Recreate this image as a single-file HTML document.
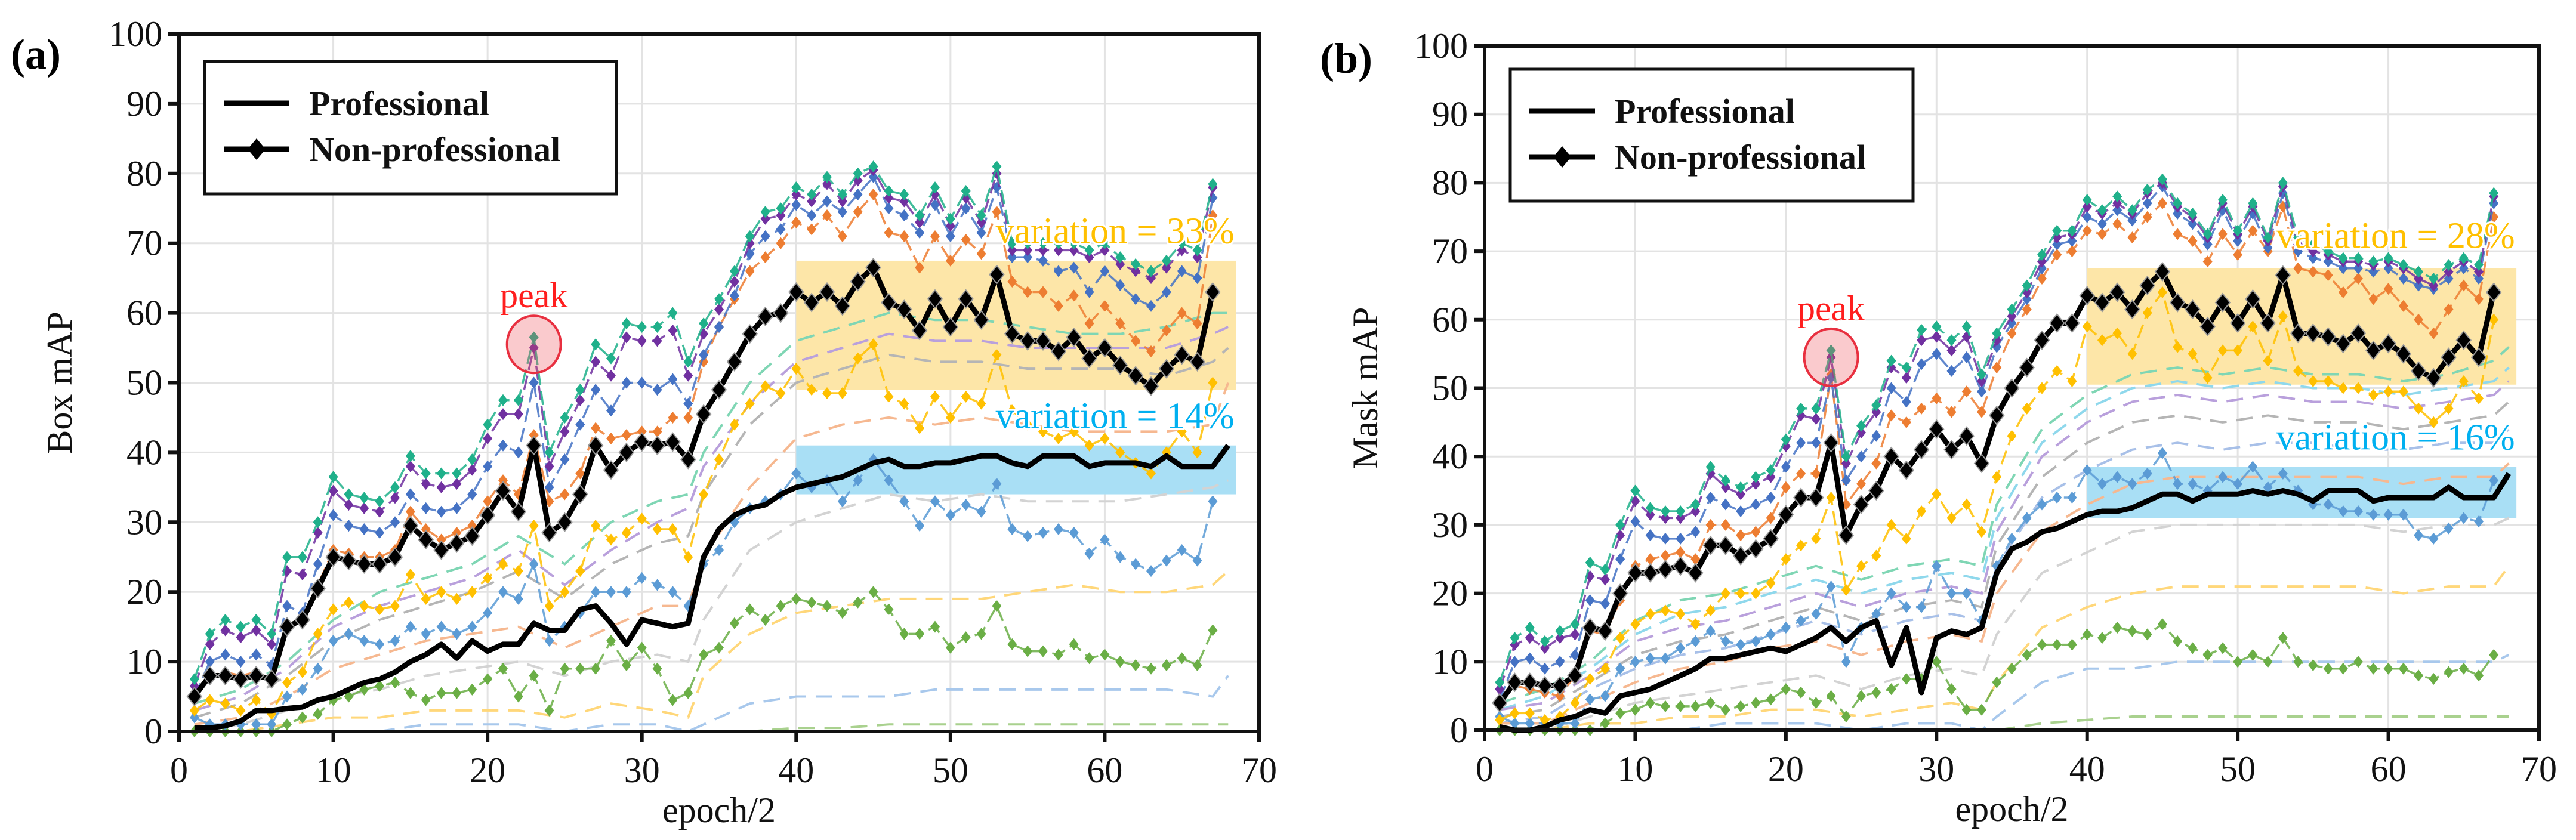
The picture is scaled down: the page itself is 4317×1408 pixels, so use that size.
<!DOCTYPE html>
<html><head><meta charset="utf-8">
<style>
html,body{margin:0;padding:0;background:#fff;}
svg{display:block;font-family:"Liberation Serif",serif;}
</style></head>
<body>
<svg id="chart" width="4317" height="1408" viewBox="0 0 4317 1408" xmlns="http://www.w3.org/2000/svg">
<text x="18" y="115" font-size="72" font-weight="bold">(a)</text>
<text x="2212" y="122" font-size="72" font-weight="bold">(b)</text>
</svg>
<script>
const epochs = Array.from({length:68},(_,i)=>i+1);
const xTicks = [0,10,20,30,40,50,60,70];
const yTicks = [0,10,20,30,40,50,60,70,80,90,100];
const dashX = [1,4,7,10,13,16,19,22,25,28,31,33,34,37,40,43,46,49,52,55,58,61,64,67,68];

// ---- Panel A (Box mAP) ----
const aProf = [0.5,0.5,0.8,1.5,3,3,3.3,3.5,4.5,5,6,7,7.5,8.5,10,11,12.5,10.5,13,11.5,12.5,12.5,15.5,14.5,14.5,17.5,18,15.5,12.5,16,15.5,15,15.5,25,29,31,32,32.5,34,35,35.5,36,36.5,37.5,38.5,39,38,38,38.5,38.5,39,39.5,39.5,38.5,38,39.5,39.5,39.5,38,38.5,38.5,38.5,38,39.5,38,38,38,41];
const aNon = [5,8,8,7.5,8,7.5,15,16,20.5,25,24.5,24,24,25,29.5,27.5,26,27,28,31,34.5,31.5,41,28.5,30,34,41,37.5,40,41.5,41,41.5,39,45.5,49,53,57,59.5,60,63,61.5,63,61,64.5,66.5,61.5,60.5,57.5,62,58,62,59,65.5,57,56,56,54.5,56.5,53.5,55,52.5,51,49.5,52,54,53,63];
const aTop = [7.5,14,16,15,16,14,25,25,30,36.5,34,33.5,33,35,39.5,37,37,37,39,44,47.5,47.5,56.5,40,45,49,55.5,53.5,58.5,58,58,60,53,58.5,62,66,71,74.5,75,78,77,79.5,77,80,81,77.5,77,74,78,73.5,77.5,74,81,70,70,70,70,70,69,70,68,67,66,67.5,70,69,78.5];
const aPurple = [6.5,12.5,14.5,13.5,14.5,12.5,23,22.5,28.5,34.5,32.5,32,31.5,33.5,38,35.5,35,35.5,37.5,42,45.5,45.5,55,38,43,47.5,53,51,56.5,56,56,57.5,51,57,60.5,64.5,70,73.5,74,77,76,78.5,76,79,80.5,76.5,76,73,77,72.5,76.5,73,80,69,69,69,69,69,68,69,67,66,65,66.5,69,68,78];
const aBlueHi = [5,10,11,10,11,9.5,18,17,24,31,29.5,29,28.5,30,34,32,31.5,32,34,38,41,40,50,35,39,44,49,46,50,50,49,50.5,47,54,58,62.5,68.5,71,72,75.5,74,76,74.5,77,79.5,75,74,71.5,75.5,71,75,71.5,78,68,68,67.5,66,66.5,63,66,64,62,61,63,66,65,76.5];
const aOrange = [5,8,8.5,8,8.5,7.5,15,16.5,21,26,25.5,25,25,26,31.5,29,27.5,28.5,29.5,33,36,34,42.5,33,34,37,43.5,42,42.5,43,43,45,45,53,58,62,66,68,70,73,72,74,71,74.5,77,71.5,71,66.5,71,67.5,70.5,68.5,74.5,64.5,63,63,61,62.5,58.5,61,58.5,56,54.5,57.5,60,58.5,74];
const aYellow = [3,4.5,4,3,4.5,2.5,7,8.5,14,17.5,18.5,18,17.5,18,22.5,19,20,19,20,22,24,23,29.5,18,20,23,29.5,27.5,28.5,30.5,29,29,25,34,39,44,47,49.5,48.5,52,49,48.5,48.5,53.5,55.5,48,47,43.5,48,45,48,47,54,46,44,43,42,43,41,42,40,38.5,37,40,43,40,50];
const aBlueLo = [2,1,1,1,1,1,5,6,9,13,14,13,12.5,13,15,14,15,14,15,17,20,19,24,13,15,17,20,20,20,22,21,20,18,24,26,30,32,33,34,37,35,36,33,36,39,36,33,29.5,33,31,32.5,31.5,35.5,29,28,28.5,29,28.5,25.5,27.5,25,24,23,24.5,26,24.5,33];
const aGreen = [0,0,0,0,0,0,1,2,2.5,4.5,5,6,6.5,7,5.5,4.5,5.5,5.5,6,7.5,9,5,8,3,9,9,9,13,9.5,12,9,4.5,5.5,11,12,15.5,17.5,16,18,19,18.5,18,17,18.5,20,17.5,14,14,15,12,13.5,14,18,12.5,11.5,11.5,11,12.5,10.5,11,10,9.5,9,9.5,10.5,9.5,14.5];
const aDashTeal = [4,6,10,16,20,22,24,28,24,30,33,34,40,50,56,58,60,59,59,58,57,57,58,60,60];
const aDashLav = [3,5,9,15,18,20,22,26,21,26,30,32,38,47,53,55,57,56,56,55,55,55,55,57,58];
const aDashGray = [2,4,8,13,16,18,20,23,19,24,27,28,34,44,50,52,54,53,53,52,52,52,51,53,55];
const aDashOrange = [1,2,5,9,11,13,14,15,12,15,18,18,25,35,42,44,45,44,45,44,43,43,43,44,50];
const aDashLGray = [0,1,3,5,6,8,9,10,8,10,11,10,16,26,30,32,34,33,34,33,33,33,34,35,36];
const aDashYellow = [0,0,1,2,2,3,3,3,2,4,3,2,8,14,17,18,19,19,19,20,21,20,20,21,23];
const aDashBlue = [0,0,0,0,0,1,1,1,0,1,1,0,1,4,5,5,5,6,6,6,6,6,6,5,8];
const aDashGreen = [0,0,0,0,0,0,0,0,0,0,0,0,0,0,0.5,0.5,1,1,1,1,1,1,1,1,1];

// ---- Panel B (Mask mAP) ----
const bProf = [0.5,0,0,0.5,1.5,2,3,2.5,5,5.5,6,7,8,9,10.5,10.5,11,11.5,12,11.5,12.5,13.5,15,13,15,16,9.5,15,5.5,13.5,14.5,14,15,23,26.5,27.5,29,29.5,30.5,31.5,32,32,32.5,33.5,34.5,34.5,33.5,34.5,34.5,34.5,35,34.5,35,34.5,33.5,35,35,35,33.5,34,34,34,34,35.5,34,34,34,37.5];
const bNon = [4,7,7,6.5,6.5,8,15,14.5,20,23,23,23.5,24,23,27,27,25.5,26.5,28,31.5,34,34,42,28.5,33,35,40,38,41,44,41,43,39,46,50,53,57,59.5,59.5,63.5,62.5,64,61.5,65,67,62.5,61.5,59,62.5,59.5,63,59.5,66.5,58,58,57.5,56.5,58,55.5,56.5,55,52.5,51.5,54.5,57,54.5,64];
const bTop = [7,13.5,15,13,14.5,15.5,24.5,23.5,30,35,32.5,32,32,33,38.5,36.5,35.5,37,38,42.5,47,47,55.5,40,44.5,47.5,54,53,58.5,59,57,59,52,58,61.5,65,69.5,73,73,77.5,76,78,76,79,80.5,77,75.5,72.5,77.5,73,77,72,80,72,71,70,69,69,68.5,69,68,67,66,68,69,68,78.5];
const bPurple = [6,12.5,13.5,12,13.5,14,22.5,22,28.5,33.5,31.5,31,31,32,37.5,35.5,34.5,36,37,41.5,46,45.5,54.5,39,43.5,46.5,53,51.5,57,57.5,55.5,57.5,51,57,60.5,64,68.5,72,72.5,76.5,75.5,77,75.5,78.5,80,76.5,75,72,77,72.5,76.5,71.5,79.5,71,70,69.5,68.5,68.5,68,68.5,67.5,66,65,67,68.5,67,78];
const bBlueHi = [4.5,10,10.5,9,10,11,19,18.5,25,30.5,28.5,28,28,29,34,33,32,33,34,38.5,42,42,51.5,36.5,40,43,50,48,53.5,55,52.5,54.5,49.5,56,59.5,63,67.5,71,71.5,75,74,76,74.5,77,79.5,75.5,74,71,76,71.5,75.5,70.5,78.5,70,69,68.5,67.5,67.5,67,67.5,66,65,64.5,66,67.5,66,77];
const bOrange = [4,6.5,6,5.5,5,8,14.5,14,19,24,25,25.5,26,25,30,30,28.5,29,31,35.5,37.5,37.5,52,33,36,39,46,45,47,48.5,46.5,49.5,46.5,53,58,61.5,66,69.5,70,73,72.5,74,72,75,77,72.5,71.5,68.5,72.5,69.5,73,70,76.5,67.5,67,66.5,64,66,63,64.5,62,60,58,61.5,65,63,75];
const bYellow = [1.5,2.5,2.5,1.5,2,4,7.5,9,13.5,15.5,17,17.5,17,15.5,17.5,20,20,20,21.5,25,27,28,34,20.5,24,25.5,30,28,32,34.5,31,33,29,37,43,47,50,52.5,51,59,57,58,55,61,64,56,55,51.5,55.5,55.5,59,54,60.5,52.5,51,51,50,50,49,49.5,49.5,47,45,47,51,48.5,60];
const bBlueLo = [2,1,1,1,1,1,4.5,5,9,10,10.5,10.5,12,13,14.5,13,12.5,13,14,15,16,17,21,10,15,17,20,18,18,24,20,20,16,24,28,31,33,34,34,38,36,37,36,37.5,40.5,36,36,35,37,36,38.5,35.5,37.5,35,33,33,32,32,31.5,31.5,31.5,28.5,28,29.5,31,30.5,36.5];
const bGreen = [0,0,0,0,0,0,0,1,2.5,3,4,3.5,3.5,3.5,4,3,3.5,4,4.5,6,5.5,4,5,2,5,5.5,6,7.5,7.5,10,6,3,3,7,9,11,12.5,12.5,12.5,14,13.5,15,14.5,14,15.5,13,12,11,12,10,11,10,13.5,10,9.5,9,9,10,9,9,9,8,7.5,8.5,9,8,11];
const bDashTeal = [4,6,10,16,19,20,22,24,22,24,25,24,33,44,49,52,53,52,53,52,52,51,52,54,56];
const bDashCyan = [3,5,9,14,17,18,20,22,20,22,23,22,31,42,47,50,51,50,51,50,50,49,50,51,53];
const bDashLav = [3,4,8,13,15,16,18,20,18,20,21,20,29,40,45,48,49,48,49,48,48,47,48,49,51];
const bDashGray = [2,3,7,11,13,14,16,18,16,18,19,18,27,37,42,45,46,45,46,45,45,44,45,46,48];
const bDashBlue = [1,2,6,9,11,12,14,16,14,16,17,16,24,34,38,41,42,41,42,42,41,41,42,42,44];
const bDashOrange = [1,1,4,7,9,10,12,13,11,13,14,13,20,29,33,36,37,37,37,37,37,36,37,37,39];
const bDashLGray = [0,0,2,4,5,6,7,8,6,8,9,8,14,23,26,29,30,30,30,30,30,29,30,30,31];
const bDashYellow = [0,0,1,1,2,2,3,3,2,3,4,3,7,15,18,20,21,21,21,21,21,20,21,21,24];
const bDashLBlue = [0,0,0,0,0,1,1,1,0,1,1,0,2,7,9,9,10,10,10,10,10,10,10,10,11];
const bDashGreen = [0,0,0,0,0,0,0,0,0,0,0,0,0,1,1.5,2,2,2,2,2,2,2,2,2,2];

const NS = "http://www.w3.org/2000/svg";
const svg = document.getElementById('chart');
function mk(tag, attrs, parent){
  const e = document.createElementNS(NS, tag);
  for (const k in attrs) e.setAttribute(k, attrs[k]);
  (parent||svg).appendChild(e);
  return e;
}

function drawPanel(p){
  const g = mk('g', {});
  
  
  const X = v => p.x0 + (v/70)*(p.x1-p.x0);
  const Y = v => p.y0 - (v/100)*(p.y0-p.y1);
  // grid
  for (const t of yTicks){
    if (t===0||t===100) continue;
    const l = mk('line',{x1:p.x0,x2:p.x1,y1:Y(t),y2:Y(t),stroke:'#e3e3e3','stroke-width':3},g);
    
    
  }
  for (const t of xTicks){
    if (t===0||t===70) continue;
    const l = mk('line',{x1:X(t),x2:X(t),y1:p.y1,y2:p.y0,stroke:'#e3e3e3','stroke-width':3},g);
    
    
  }
  // shaded bands
  const yb = mk('rect',{x:X(40),y:Y(p.yBand[1]),width:X(68.5)-X(40),height:Y(p.yBand[0])-Y(p.yBand[1]),fill:'#fde6a8'},g);
  
  
  const bb = mk('rect',{x:X(40),y:Y(p.bBand[1]),width:X(68.5)-X(40),height:Y(p.bBand[0])-Y(p.bBand[1]),fill:'#a9dff5'},g);
  
  

  // dashed series
  for (const d of p.dashed){
    const pts = dashX.map((x,i)=>X(x)+','+Y(d.v[i])).join(' ');
    const pl = mk('polyline',{points:pts,fill:'none',stroke:d.c,'stroke-width':4,'stroke-dasharray':'28 16'},g);
    
    
  }
  // diamond series
  for (const d of p.dia){
    const pts = d.v.map((v,i)=>X(epochs[i])+','+Y(v)).join(' ');
    const pl = mk('polyline',{points:pts,fill:'none',stroke:d.c,'stroke-width':3.5,'stroke-dasharray':'24 10','opacity':0.85},g);
    
    
    d.v.forEach((v,i)=>{
      const cx=X(epochs[i]), cy=Y(v), s=10;
      const m = mk('polygon',{points:`${cx},${cy-s} ${cx+s*0.8},${cy} ${cx},${cy+s} ${cx-s*0.8},${cy}`,fill:d.c},g);
      
      
    });
  }
  // professional
  const pp = p.prof.map((v,i)=>X(epochs[i])+','+Y(v)).join(' ');
  const pr = mk('polyline',{points:pp,fill:'none',stroke:'#000','stroke-width':9,'stroke-linejoin':'round'},g);
  
  
  // non-professional
  const np = p.non.map((v,i)=>X(epochs[i])+','+Y(v)).join(' ');
  const nl = mk('polyline',{points:np,fill:'none',stroke:'#000','stroke-width':9,'stroke-linejoin':'round'},g);
  
  
  p.non.forEach((v,i)=>{
    const cx=X(epochs[i]), cy=Y(v), s=15;
    const m = mk('polygon',{points:`${cx},${cy-s} ${cx+s*0.8},${cy} ${cx},${cy+s} ${cx-s*0.8},${cy}`,fill:'#000',stroke:'#999','stroke-width':2},g);
    
    
  });

  // peak
  const pc = mk('ellipse',{cx:X(23),cy:Y(p.peakY),rx:45,ry:48,fill:'rgba(240,80,90,0.3)',stroke:'#e83040','stroke-width':4},g);
  
  
  const pt = mk('text',{x:X(23),y:Y(p.peakY)-62,'font-size':60,fill:'#ff1e1e',stroke:'#fff','stroke-width':2,'text-anchor':'middle','paint-order':'stroke'},g);
  pt.textContent='peak';
  
  
  const vt1 = mk('text',{x:X(68.4),y:Y(p.vy1),'font-size':62,fill:'#ffc000',stroke:'#fff','stroke-width':6,'paint-order':'stroke','text-anchor':'end'},g);
  vt1.textContent=p.v1;
  
  
  const vt2 = mk('text',{x:X(68.4),y:Y(p.vy2),'font-size':62,fill:'#00b0f0',stroke:'#fff','stroke-width':6,'paint-order':'stroke','text-anchor':'end'},g);
  vt2.textContent=p.v2;
  
  

  // axes box
  const box = mk('rect',{x:p.x0,y:p.y1,width:p.x1-p.x0,height:p.y0-p.y1,fill:'none',stroke:'#111','stroke-width':6},g);
  
  
  for (const t of yTicks){
    const tl = mk('line',{x1:p.x0-18,x2:p.x0,y1:Y(t),y2:Y(t),stroke:'#111','stroke-width':6},g);
    
    
    const tx = mk('text',{x:p.x0-28,y:Y(t)+20,'font-size':60,'text-anchor':'end',fill:'#111'},g);
    tx.textContent=t;
    
    
  }
  for (const t of xTicks){
    const tl = mk('line',{x1:X(t),x2:X(t),y1:p.y0,y2:p.y0+18,stroke:'#111','stroke-width':6},g);
    
    
    const tx = mk('text',{x:X(t),y:p.y0+85,'font-size':60,'text-anchor':'middle',fill:'#111'},g);
    tx.textContent=t;
    
    
  }
  const xt = mk('text',{x:(p.x0+p.x1)/2,y:p.y0+152,'font-size':60,'text-anchor':'middle',fill:'#111'},g);
  xt.textContent='epoch/2';
  
  
  const yt = mk('text',{x:0,y:0,'font-size':60,'text-anchor':'middle',fill:'#111',transform:`translate(${p.x0-180},${(p.y0+p.y1)/2}) rotate(-90)`},g);
  yt.textContent=p.yTitle;
  
  

  // legend
  const L = p.leg;
  const lb = mk('rect',{x:L.x,y:L.y,width:L.w,height:L.h,fill:'#fff',stroke:'#111','stroke-width':5},g);
  
  
  const l1 = mk('line',{x1:L.x+32,x2:L.x+142,y1:L.y+70,y2:L.y+70,stroke:'#000','stroke-width':9},g);
  
  
  const t1 = mk('text',{x:L.x+175,y:L.y+90,'font-size':58,'font-weight':'bold',fill:'#111'},g);
  t1.textContent='Professional';
  
  
  const l2 = mk('line',{x1:L.x+32,x2:L.x+142,y1:L.y+147,y2:L.y+147,stroke:'#000','stroke-width':9},g);
  
  
  const cx=L.x+87, cy=L.y+147;
  const ld = mk('polygon',{points:`${cx},${cy-18} ${cx+15},${cy} ${cx},${cy+18} ${cx-15},${cy}`,fill:'#000'},g);
  
  
  const t2 = mk('text',{x:L.x+175,y:L.y+167,'font-size':58,'font-weight':'bold',fill:'#111'},g);
  t2.textContent='Non-professional';
  
  
}

drawPanel({id:'box-map', x0:300, x1:2110, y0:1226, y1:57, yTitle:'Box mAP',
  yBand:[49,67.5], bBand:[34,41], peakY:55.5, v1:'variation = 33%', vy1:70, v2:'variation = 14%', vy2:43.5,
  prof:aProf, non:aNon,
  leg:{x:343,y:103,w:690,h:222},
  dashed:[
    {n:'dashed-teal',c:'#7fd6b4',v:aDashTeal},{n:'dashed-lavender',c:'#b9a0dc',v:aDashLav},
    {n:'dashed-gray',c:'#b5b5b5',v:aDashGray},{n:'dashed-orange',c:'#f6b890',v:aDashOrange},
    {n:'dashed-lightgray',c:'#d3d3d3',v:aDashLGray},{n:'dashed-yellow',c:'#ffd77a',v:aDashYellow},
    {n:'dashed-blue',c:'#a8c8ec',v:aDashBlue},{n:'dashed-green',c:'#a9d18e',v:aDashGreen}],
  dia:[
    {n:'green-low',c:'#6aae45',v:aGreen},{n:'blue-low',c:'#5b9bd5',v:aBlueLo},
    {n:'yellow',c:'#ffc000',v:aYellow},{n:'orange',c:'#ed7d31',v:aOrange},
    {n:'blue-high',c:'#4472c4',v:aBlueHi},{n:'purple',c:'#7030a0',v:aPurple},
    {n:'teal-top',c:'#1fb08a',v:aTop}]
});
drawPanel({id:'mask-map', x0:2488, x1:4255, y0:1224, y1:77, yTitle:'Mask mAP',
  yBand:[50.5,67.5], bBand:[31,38.5], peakY:54.5, v1:'variation = 28%', vy1:70.5, v2:'variation = 16%', vy2:41,
  prof:bProf, non:bNon,
  leg:{x:2531,y:116,w:675,h:221},
  dashed:[
    {n:'dashed-teal',c:'#7fd6b4',v:bDashTeal},{n:'dashed-cyan',c:'#8fd8ec',v:bDashCyan},
    {n:'dashed-lavender',c:'#b9a0dc',v:bDashLav},{n:'dashed-gray',c:'#b5b5b5',v:bDashGray},
    {n:'dashed-blue',c:'#a8c0e8',v:bDashBlue},{n:'dashed-orange',c:'#f6b890',v:bDashOrange},
    {n:'dashed-lightgray',c:'#d3d3d3',v:bDashLGray},{n:'dashed-yellow',c:'#ffd77a',v:bDashYellow},
    {n:'dashed-lightblue',c:'#a8c8ec',v:bDashLBlue},{n:'dashed-green',c:'#a9d18e',v:bDashGreen}],
  dia:[
    {n:'green-low',c:'#6aae45',v:bGreen},{n:'blue-low',c:'#5b9bd5',v:bBlueLo},
    {n:'yellow',c:'#ffc000',v:bYellow},{n:'orange',c:'#ed7d31',v:bOrange},
    {n:'blue-high',c:'#4472c4',v:bBlueHi},{n:'purple',c:'#7030a0',v:bPurple},
    {n:'teal-top',c:'#1fb08a',v:bTop}]
});
</script>
</body></html>
